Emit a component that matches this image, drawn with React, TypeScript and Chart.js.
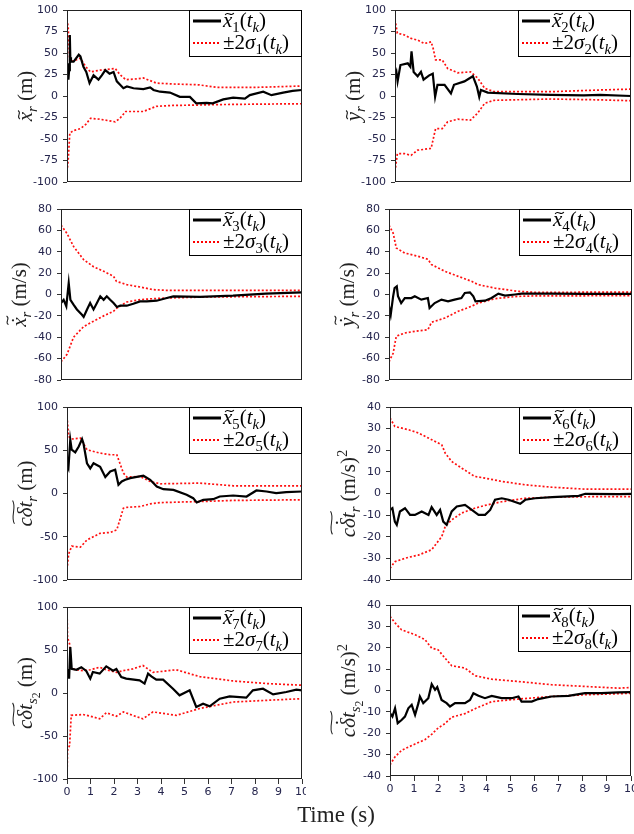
import { useEffect, useRef } from 'react';
import { Chart, registerables } from 'chart.js';
Chart.register(...registerables);

// ---------- DATA ----------
const xTicks = [0, 1, 2, 3, 4, 5, 6, 7, 8, 9, 10];
const yTicksPos = [-100, -75, -50, -25, 0, 25, 50, 75, 100];
const yTicksVel = [-80, -60, -40, -20, 0, 20, 40, 60, 80];
const yTicksClk = [-100, -50, 0, 50, 100];
const yTicksDrift = [-40, -30, -20, -10, 0, 10, 20, 30, 40];

// panel 1: x position error
const t1S = [0, 0.05, 0.12, 0.3, 0.57, 0.8, 1.0, 1.4, 2.05, 2.25, 2.5, 3.0, 3.25, 3.8, 4.5, 5.6, 6.4, 8.0, 10];
const up1 = [89, 80, 40, 41, 44, 34, 28, 30, 32, 25, 19, 20, 21, 15, 14, 13, 10, 10, 11.6];
const lo1 = [-88, -75, -43, -40, -38, -33, -26, -27, -30, -26, -18, -18, -18, -12, -11, -10.5, -10, -9.5, -9];
const t1E = [0, 0.03, 0.06, 0.09, 0.12, 0.14, 0.17, 0.28, 0.5, 0.57, 0.7, 0.82, 0.96, 1.13, 1.34, 1.48, 1.63, 1.81, 1.98, 2.12, 2.26, 2.4, 2.55, 2.83, 3.25, 3.54, 3.68, 3.96, 4.38, 4.8, 5.23, 5.5, 5.94, 6.2, 6.65, 7.07, 7.57, 7.78, 8.35, 8.7, 9.2, 9.6, 10];
const e1 = [24, 38, 19, 30, 71, 45, 40, 40, 48, 46, 34, 28, 15, 24, 19, 24, 30, 26, 28, 17, 13, 9, 11, 9, 8, 10, 7, 5, 4, -1, -1, -8.5, -8, -8.5, -4, -2, -3, 1, 5, 1, 4, 6, 7];

// panel 2: y position error
const t2S = [0, 0.1, 0.4, 0.68, 0.96, 1.24, 1.53, 1.62, 1.72, 2.0, 2.23, 2.66, 3.2, 3.5, 3.8, 4.2, 6.6, 8.7, 10];
const up2 = [89, 73, 71, 67, 65, 61, 63, 55, 42, 42, 32, 27, 28, 21, 9, 5, 5, 7, 8];
const lo2 = [-88, -67, -67, -69, -63, -62, -61, -50, -38, -38, -30, -27, -28, -20, -8.5, -5, -3.5, -4.5, -5.5];
const t2E = [0, 0.06, 0.11, 0.23, 0.54, 0.65, 0.7, 0.79, 0.96, 1.1, 1.21, 1.45, 1.6, 1.7, 1.8, 2.1, 2.37, 2.5, 2.94, 3.3, 3.47, 3.57, 3.64, 3.93, 5.2, 6.6, 8, 8.7, 10];
const e2 = [23, 28, 17, 36, 38, 34, 52, 28, 23, 28, 19, 24, 26, -1, 13, 13, 3, 13, 17, 23, 11, -1, 7, 4, 2.3, 1.2, 0.8, 1.2, 0];

// panel 3: x velocity error
const t3S = [0, 0.25, 0.52, 0.94, 1.35, 1.77, 2.18, 2.3, 2.73, 3.28, 3.83, 4.39, 6, 8, 10];
const up3 = [65, 57, 45, 32.6, 26, 21.7, 17, 12.3, 9.2, 7, 4.5, 3.9, 3.9, 3.9, 3.9];
const lo3 = [-63, -56, -40, -30, -25, -20, -15.7, -13, -7, -4.8, -3.9, -3.3, -2.3, -2, -1.7];
const t3E = [0, 0.11, 0.22, 0.32, 0.39, 0.52, 0.66, 0.87, 0.94, 1.08, 1.21, 1.35, 1.49, 1.63, 1.77, 1.9, 2.04, 2.18, 2.32, 2.46, 2.73, 3.0, 3.28, 3.56, 3.97, 4.39, 4.66, 5.77, 7.14, 8.5, 10];
const e3 = [-8, -5, -11, 10.7, -5, -9.5, -14, -19, -21, -14, -8, -14, -8, -1.7, -5, -1.7, -5, -8, -11.7, -10.5, -10.5, -8.6, -6.4, -6.4, -5.8, -3.3, -1.7, -2.3, -1.1, 0.8, 2];

// panel 4: y velocity error
const t4S = [0, 0.17, 0.3, 0.65, 1.2, 1.6, 1.75, 2.3, 2.85, 3.4, 3.67, 4.36, 5.3, 6, 10];
const up4 = [65, 57.5, 43.5, 38.8, 35.7, 33, 28, 21.7, 17, 12.3, 9.2, 6, 3, 2, 2.3];
const lo4 = [-63, -55, -39, -36, -34, -33, -26, -22, -15.7, -11, -8, -3.9, -1.7, -1.3, -1.1];
const t4E = [0, 0.07, 0.17, 0.23, 0.32, 0.37, 0.5, 0.65, 0.92, 1.06, 1.33, 1.6, 1.67, 1.88, 2.16, 2.43, 2.7, 2.98, 3.12, 3.33, 3.47, 3.56, 3.95, 4.22, 4.5, 4.77, 5.19, 5.46, 6.7, 8.07, 10];
const e4 = [-11, -19, -1.7, 6, 7.6, -1.7, -8, -3.3, -3.3, -1.7, -4.8, -3.3, -12.6, -8, -4.8, -6.4, -4.8, -3.3, 1.4, 2, -1.7, -6.4, -5.8, -3.3, 0.8, -1.1, 0, 0.8, 0.8, 0.5, 0.5];

// panel 5: receiver clock bias error
const t5S = [0, 0.07, 0.2, 0.57, 0.85, 1.41, 1.84, 2.12, 2.4, 2.55, 3.11, 3.54, 3.96, 5.66, 7.07, 10];
const up5 = [89, 66, 63, 64, 50.6, 46.7, 44.8, 44.8, 23.5, 19, 19.7, 13.9, 11.2, 12, 8.9, 8.9];
const lo5 = [-88, -70, -61, -62, -53.7, -46, -45, -42, -17, -16, -15, -12, -10.5, -9.3, -8, -7.3];
const t5E = [0, 0.06, 0.14, 0.2, 0.35, 0.5, 0.64, 0.7, 0.85, 0.99, 1.13, 1.41, 1.63, 1.84, 2.05, 2.19, 2.33, 2.48, 2.69, 3.25, 3.54, 3.82, 4.1, 4.53, 5.09, 5.37, 5.52, 5.8, 6.22, 6.5, 7.07, 7.64, 8.06, 8.49, 8.9, 9.33, 10];
const e5 = [33, 29, 62, 50.6, 47.5, 54.4, 63, 58, 35, 29, 35, 31, 19, 25.5, 27.4, 10, 13.9, 15.8, 17.8, 20.5, 15.8, 8, 5, 4.2, -1.5, -5.4, -10.4, -7.3, -6.6, -3.5, -2.3, -3.5, 3.5, 2.3, 0.4, 1.5, 2.3];

// panel 6: receiver clock drift error
const t6S = [0, 0.2, 0.76, 1.17, 1.72, 2.14, 2.28, 2.55, 2.97, 3.5, 3.93, 4.62, 5.59, 6.7, 8.07, 10];
const up6 = [34.9, 31, 29.5, 28, 24.9, 22.5, 18.7, 14.8, 11.7, 7.9, 7.1, 5.6, 4, 2.9, 2, 2];
const lo6 = [-34.6, -31.5, -29.5, -28.5, -26, -19.9, -15.3, -12.2, -9, -6.8, -5.5, -3.8, -2.2, -1.7, -1.5, -1.4];
const t6E = [0, 0.1, 0.2, 0.28, 0.41, 0.62, 0.83, 1.03, 1.31, 1.59, 1.72, 1.93, 2.07, 2.2, 2.34, 2.55, 2.76, 3.1, 3.38, 3.66, 3.93, 4.14, 4.34, 4.62, 4.9, 5.38, 5.59, 6.0, 6.7, 7.8, 8.07, 9.45, 10];
const e6 = [-7.6, -6.8, -13, -14.5, -8.3, -6.8, -9.9, -9.9, -8.3, -9.9, -6.3, -9.9, -7.6, -13, -14.5, -8.3, -6, -5.3, -7.6, -9.9, -9.9, -7.6, -2.9, -2.2, -2.9, -4.8, -2.9, -2.2, -1.7, -1.1, -0.15, -0.3, -0.15];

// panel 7: second clock bias error
const t7S = [0, 0.02, 0.11, 0.18, 0.68, 1.0, 1.39, 1.67, 2.1, 2.4, 2.8, 3.23, 3.66, 4.65, 5.65, 7.06, 8.5, 10];
const up7 = [100, 65, 57, 28, 26, 27, 30, 27, 24, 26, 28, 32, 24, 27, 19, 14, 11, 9];
const lo7 = [-100, -67, -61, -26, -25, -27, -30, -23, -27, -22, -26, -30, -22, -26, -18, -10.5, -8.5, -6.6];
const t7E = [0, 0.04, 0.09, 0.14, 0.2, 0.4, 0.61, 0.82, 0.99, 1.1, 1.39, 1.67, 1.96, 2.1, 2.31, 2.52, 3.09, 3.3, 3.45, 3.59, 3.8, 4.09, 4.51, 4.79, 5.22, 5.5, 5.79, 6.07, 6.5, 6.92, 7.63, 7.91, 8.34, 8.77, 9.33, 9.76, 10];
const e7 = [18.6, 28, 16.7, 53.5, 28, 27, 30, 25.6, 16.7, 24.4, 22.5, 31, 26, 28, 18.6, 16.7, 14.7, 10.9, 22.5, 19.4, 15.5, 15.5, 5, -2.7, 3.1, -16.3, -12.4, -15.5, -6.6, -3.9, -5.4, 3.1, 5, -1.6, 1.2, 3.9, 3.1];

// panel 8: second clock drift error
const t8S = [0, 0.21, 0.48, 1.04, 1.45, 1.73, 2.0, 2.28, 2.56, 3.11, 3.53, 4.22, 5.33, 6.7, 8.09, 9.47, 10];
const up8 = [34.7, 31.6, 28.4, 26.1, 23.8, 19.8, 19, 15.2, 11.6, 10.5, 6.9, 5.3, 4.2, 2.7, 1.9, 1.1, 1.4];
const lo8 = [-34.8, -31, -28, -25, -23, -20.5, -17.5, -15.5, -12.5, -10.8, -8.5, -5.2, -4, -2.8, -2, -1.5, -1.3];
const t8E = [0, 0.1, 0.21, 0.32, 0.48, 0.62, 0.76, 0.9, 1.04, 1.18, 1.24, 1.38, 1.59, 1.73, 1.87, 1.96, 2.14, 2.35, 2.49, 2.7, 3.11, 3.32, 3.46, 3.67, 3.94, 4.22, 4.63, 5.05, 5.33, 5.46, 5.88, 6.15, 6.7, 7.4, 8.09, 8.78, 9.47, 10];
const e8 = [-10.6, -12.2, -8.3, -15.3, -13.8, -12.2, -8.3, -6.7, -11.4, -5.9, -2.8, -5.9, -3.6, 3, 0.3, 1.6, -4.4, -5.9, -7.5, -5.9, -5.9, -4.4, -1.25, -2.5, -3.6, -2.5, -3.6, -3.6, -2.8, -5.2, -5.2, -4, -2.8, -2.5, -1.25, -1.25, -0.9, -0.8];

// ---------- TEXT HELPERS ----------
type Part = { t: string; it?: boolean; lvl?: number; acc?: 'tilde' | 'dottilde'; accH?: number };
const SERIF = '"Liberation Serif", "DejaVu Serif", serif';
const SANS = '"DejaVu Sans", Verdana, sans-serif';

function pm(p: Part, base: number) {
  const lvl = p.lvl ?? 0;
  const size = lvl === 0 ? base : lvl === 2 ? base * 0.55 : base * 0.7;
  const dy = lvl === 1 ? base * 0.22 : lvl === 2 ? base * 0.36 : lvl === -1 ? -base * 0.4 : 0;
  return { size, dy, font: `${p.it ? 'italic ' : ''}${size}px ${SERIF}` };
}
function measureParts(ctx: CanvasRenderingContext2D, parts: Part[], base: number) {
  let w = 0;
  for (const p of parts) {
    ctx.font = pm(p, base).font;
    w += ctx.measureText(p.t).width;
  }
  return w;
}
function tildeAt(ctx: CanvasRenderingContext2D, x0: number, x1: number, yy: number, size: number) {
  const a = size * 0.075;
  const w = x1 - x0;
  ctx.beginPath();
  ctx.moveTo(x0, yy + a * 0.6);
  ctx.bezierCurveTo(x0 + w * 0.3, yy - 2.2 * a, x0 + w * 0.7, yy + 2.2 * a, x0 + w, yy - a * 0.6);
  ctx.lineWidth = Math.max(1, size * 0.05);
  ctx.stroke();
}
function drawParts(ctx: CanvasRenderingContext2D, parts: Part[], x: number, y: number, base: number, color: string) {
  let cx = x;
  ctx.fillStyle = color;
  ctx.strokeStyle = color;
  ctx.textBaseline = 'alphabetic';
  ctx.textAlign = 'left';
  for (const p of parts) {
    const m = pm(p, base);
    ctx.font = m.font;
    const w = ctx.measureText(p.t).width;
    ctx.fillText(p.t, cx, y + m.dy);
    if (p.acc) {
      const h = (p.accH ?? 0.62) * m.size;
      const sl = p.it ? 0.08 * m.size : 0;
      const x0 = cx + w * 0.05 + sl, x1 = cx + w * 0.98 + sl;
      if (p.acc === 'dottilde') {
        ctx.beginPath();
        ctx.arc((x0 + x1) / 2, y - h, Math.max(1, m.size * 0.055), 0, Math.PI * 2);
        ctx.fill();
        tildeAt(ctx, x0, x1, y - h - 0.26 * m.size, m.size);
      } else {
        tildeAt(ctx, x0, x1, y - h, m.size);
      }
    }
    cx += w;
  }
}

// ---------- PANELS ----------
type Panel = {
  L: number; T: number; R: number; B: number; colX: number; bottom: boolean;
  yMin: number; yMax: number; yTicks: number[];
  tS: number[]; up: number[]; lo: number[]; tE: number[]; err: number[];
  n: string; title: Part[];
};

const panels: Panel[] = [
  { L: 67, T: 10, R: 302, B: 182, colX: 0, bottom: false, yMin: -100, yMax: 100, yTicks: yTicksPos, tS: t1S, up: up1, lo: lo1, tE: t1E, err: e1, n: '1',
    title: [{ t: 'x', it: true, acc: 'tilde', accH: 0.62 }, { t: 'r', it: true, lvl: 1 }, { t: ' (m)' }] },
  { L: 395, T: 10, R: 631, B: 182, colX: 318, bottom: false, yMin: -100, yMax: 100, yTicks: yTicksPos, tS: t2S, up: up2, lo: lo2, tE: t2E, err: e2, n: '2',
    title: [{ t: 'y', it: true, acc: 'tilde', accH: 0.62 }, { t: 'r', it: true, lvl: 1 }, { t: ' (m)' }] },
  { L: 61, T: 209, R: 302, B: 380, colX: 0, bottom: false, yMin: -80, yMax: 80, yTicks: yTicksVel, tS: t3S, up: up3, lo: lo3, tE: t3E, err: e3, n: '3',
    title: [{ t: 'x', it: true, acc: 'dottilde', accH: 0.62 }, { t: 'r', it: true, lvl: 1 }, { t: ' (m/s)' }] },
  { L: 389, T: 209, R: 632, B: 380, colX: 318, bottom: false, yMin: -80, yMax: 80, yTicks: yTicksVel, tS: t4S, up: up4, lo: lo4, tE: t4E, err: e4, n: '4',
    title: [{ t: 'y', it: true, acc: 'dottilde', accH: 0.62 }, { t: 'r', it: true, lvl: 1 }, { t: ' (m/s)' }] },
  { L: 67, T: 407, R: 302, B: 580, colX: 0, bottom: false, yMin: -100, yMax: 100, yTicks: yTicksClk, tS: t5S, up: up5, lo: lo5, tE: t5E, err: e5, n: '5',
    title: [{ t: 'cδt', it: true, acc: 'tilde', accH: 0.88 }, { t: 'r', it: true, lvl: 1 }, { t: ' (m)' }] },
  { L: 390, T: 407, R: 632, B: 580, colX: 318, bottom: false, yMin: -40, yMax: 40, yTicks: yTicksDrift, tS: t6S, up: up6, lo: lo6, tE: t6E, err: e6, n: '6',
    title: [{ t: 'cδt', it: true, acc: 'dottilde', accH: 0.86 }, { t: 'r', it: true, lvl: 1 }, { t: ' (m/s)' }, { t: '2', lvl: -1 }] },
  { L: 67, T: 607, R: 302, B: 779, colX: 0, bottom: true, yMin: -100, yMax: 100, yTicks: yTicksClk, tS: t7S, up: up7, lo: lo7, tE: t7E, err: e7, n: '7',
    title: [{ t: 'cδt', it: true, acc: 'tilde', accH: 0.88 }, { t: 's', it: true, lvl: 1 }, { t: '2', lvl: 2 }, { t: ' (m)' }] },
  { L: 390, T: 605, R: 631, B: 776, colX: 318, bottom: true, yMin: -40, yMax: 40, yTicks: yTicksDrift, tS: t8S, up: up8, lo: lo8, tE: t8E, err: e8, n: '8',
    title: [{ t: 'cδt', it: true, acc: 'dottilde', accH: 0.86 }, { t: 's', it: true, lvl: 1 }, { t: '2', lvl: 2 }, { t: ' (m/s)' }, { t: '2', lvl: -1 }] },
];

const PAD_T = 8;
function geom(p: Panel) {
  const cx = p.colX;
  const right = Math.min(634, p.R + 4);
  const cw = right - cx;
  const padR = right - p.R;
  const xH = p.bottom ? 24 : 8;
  const cy = p.T - PAD_T;
  const ch = p.B - p.T + PAD_T + xH;
  return { cx, cy, cw, ch, padR, xH, yW: p.L - cx };
}

const pts = (ts: number[], vs: number[]) => ts.map((t, i) => ({ x: t, y: vs[i] }));
const TICK_COLOR = '#25254d';

function makeChart(canvas: HTMLCanvasElement, p: Panel) {
  const g = geom(p);
  const deco = {
    id: 'deco' + p.n,
    afterDatasetsDraw(chart: any) {
      const ctx: CanvasRenderingContext2D = chart.ctx;
      const ca = chart.chartArea;
      ctx.save();
      // frame
      ctx.setLineDash([]);
      ctx.strokeStyle = '#222';
      ctx.lineWidth = 1;
      ctx.strokeRect(Math.round(ca.left) + 0.5, Math.round(ca.top) + 0.5, Math.round(ca.right - ca.left) - 1, Math.round(ca.bottom - ca.top) - 1);
      // legend
      const bw = 113, bh = 47;
      const bx = Math.round(ca.right) - bw, by = Math.round(ca.top);
      ctx.fillStyle = '#fff';
      ctx.fillRect(bx, by, bw, bh);
      ctx.strokeStyle = '#000';
      ctx.strokeRect(bx + 0.5, by + 0.5, bw - 1, bh - 1);
      const r1 = by + 11, r2 = by + 33;
      ctx.beginPath();
      ctx.lineWidth = 3;
      ctx.strokeStyle = '#000';
      ctx.moveTo(bx + 4, r1); ctx.lineTo(bx + 32, r1);
      ctx.stroke();
      ctx.beginPath();
      ctx.setLineDash([2, 2]);
      ctx.lineWidth = 2;
      ctx.strokeStyle = '#ff0000';
      ctx.moveTo(bx + 4, r2); ctx.lineTo(bx + 32, r2);
      ctx.stroke();
      ctx.setLineDash([]);
      const fs = 21;
      drawParts(ctx, [{ t: 'x', it: true, acc: 'tilde', accH: 0.62 }, { t: p.n, lvl: 1 }, { t: '(' }, { t: 't', it: true }, { t: 'k', it: true, lvl: 1 }, { t: ')' }], bx + 34, r1 + 6, fs, '#000');
      drawParts(ctx, [{ t: '±2' }, { t: 'σ', it: true }, { t: p.n, lvl: 1 }, { t: '(' }, { t: 't', it: true }, { t: 'k', it: true, lvl: 1 }, { t: ')' }], bx + 34, r2 + 6, fs, '#000');
      // y title (rotated)
      const tfs = 21;
      const tw = measureParts(ctx, p.title, tfs);
      ctx.translate(g.yW - 42, (ca.top + ca.bottom) / 2);
      ctx.rotate(-Math.PI / 2);
      drawParts(ctx, p.title, -tw / 2, 7, tfs, '#222');
      ctx.restore();
    },
  };

  return new Chart(canvas, {
    type: 'line',
    data: {
      datasets: [
        { data: pts(p.tE, p.err), borderColor: '#000', borderWidth: 2.2, pointRadius: 0, tension: 0, fill: false },
        { data: pts(p.tS, p.up), borderColor: '#ff1010', borderWidth: 1.7, borderDash: [2, 2], pointRadius: 0, tension: 0, fill: false },
        { data: pts(p.tS, p.lo), borderColor: '#ff1010', borderWidth: 1.7, borderDash: [2, 2], pointRadius: 0, tension: 0, fill: false },
      ],
    },
    options: {
      animation: false,
      responsive: false,
      devicePixelRatio: 1,
      events: [],
      layout: { padding: { left: 0, right: g.padR, top: PAD_T, bottom: 0 } },
      plugins: { legend: { display: false }, tooltip: { enabled: false } },
      scales: {
        x: {
          type: 'linear', min: 0, max: 10,
          afterBuildTicks: (s: any) => { s.ticks = xTicks.map((v) => ({ value: v })); },
          afterFit: (s: any) => { s.height = g.xH; s.paddingLeft = 0; s.paddingRight = 0; },
          grid: { display: p.bottom, drawOnChartArea: false, drawTicks: true, tickLength: 5, color: '#333' },
          border: { display: false },
          ticks: { display: p.bottom, autoSkip: false, maxRotation: 0, padding: 2, color: TICK_COLOR, font: { family: SANS, size: 11 } },
        },
        y: {
          type: 'linear', min: p.yMin, max: p.yMax,
          afterBuildTicks: (s: any) => { s.ticks = p.yTicks.map((v) => ({ value: v })); },
          afterFit: (s: any) => { s.width = g.yW; s.paddingTop = 0; s.paddingBottom = 0; },
          grid: { drawOnChartArea: false, drawTicks: true, tickLength: 4, color: '#333' },
          border: { display: false },
          ticks: { autoSkip: false, padding: 5, color: TICK_COLOR, font: { family: SANS, size: 11 } },
        },
      },
    },
    plugins: [deco],
  } as any);
}

export default function App() {
  const refs = useRef<(HTMLCanvasElement | null)[]>([]);
  useEffect(() => {
    const charts = panels.map((p, i) => makeChart(refs.current[i] as HTMLCanvasElement, p));
    return () => charts.forEach((c) => c.destroy());
  }, []);
  return (
    <div style={{ position: 'absolute', left: 0, top: 0, width: 634, height: 834, background: '#fff', overflow: 'hidden' }}>
      {panels.map((p, i) => {
        const g = geom(p);
        return (
          <canvas
            key={i}
            ref={(el) => { refs.current[i] = el; }}
            width={g.cw}
            height={g.ch}
            style={{ position: 'absolute', left: g.cx, top: g.cy, width: g.cw, height: g.ch }}
          />
        );
      })}
      <div style={{ position: 'absolute', left: 236, top: 800, width: 200, textAlign: 'center', fontFamily: SERIF, fontSize: 23, lineHeight: '30px', color: '#222' }}>
        Time (s)
      </div>
    </div>
  );
}
